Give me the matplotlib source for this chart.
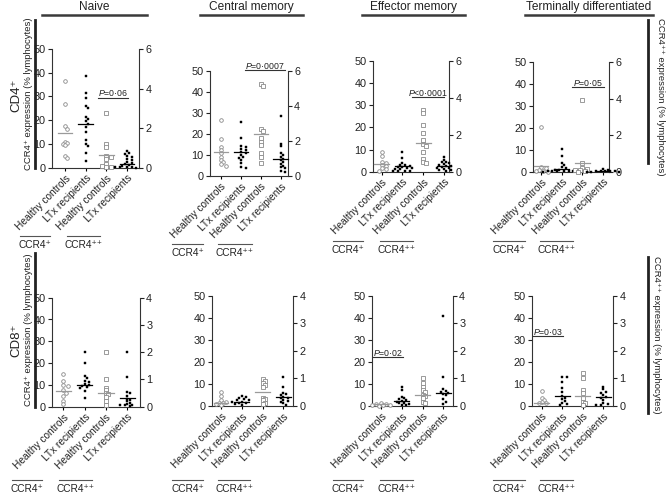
import matplotlib
matplotlib.use('Agg')
import matplotlib.pyplot as plt
from matplotlib.lines import Line2D

plt.rcParams['font.family'] = ['Liberation Sans', 'DejaVu Sans']
plt.rcParams['mathtext.fontset'] = 'custom'
plt.rcParams['mathtext.rm'] = 'Liberation Sans'
plt.rcParams['mathtext.it'] = 'Liberation Sans:italic'

# ---------------- data ----------------
categories = ['Healthy controls', 'LTx recipients', 'Healthy controls', 'LTx recipients']
subset_titles = ['Naive', 'Central memory', 'Effector memory', 'Terminally differentiated']
left_ticks = [0, 10, 20, 30, 40, 50]
right_ticks_cd4 = [0, 2, 4, 6]
right_ticks_cd8 = [0, 1, 2, 3, 4]

# CD4+ (CCR4+ on left axis, CCR4++ on right axis)
cd4_naive_hc_pos = [36.5, 27, 17.5, 16.5, 11, 10.5, 10, 9.5, 5, 4]
cd4_naive_ltx_pos = [38.5, 31.5, 29.5, 26, 25, 21.5, 20.5, 19.5, 18.5, 17, 15, 11.5, 10, 9, 6, 3]
cd4_naive_hc_hi = [2.75, 1.2, 1.05, 0.6, 0.55, 0.45, 0.2, 0.05, 0.05, 0.1]
cd4_naive_ltx_hi = [0.85, 0.75, 0.7, 0.6, 0.55, 0.45, 0.4, 0.3, 0.25, 0.2, 0.15, 0.1, 0.05, 0.02, 0.02, 0.0, 0.05]
cd4_naive_lines = [14.5, 18.5, 0.62, 0.18]

cd4_cm_hc_pos = [26.5, 17.5, 14, 12.5, 11, 9, 7.5, 6.5, 5.5, 5]
cd4_cm_ltx_pos = [25.5, 18, 14.5, 14, 13, 12.5, 11.5, 11, 10, 9, 8.5, 7.5, 6, 4.5, 4]
cd4_cm_hc_hi = [5.25, 5.15, 2.7, 2.6, 2.2, 1.95, 1.8, 1.3, 1.1, 0.75]
cd4_cm_ltx_hi = [3.45, 1.85, 1.7, 1.3, 1.2, 1.1, 1.0, 0.9, 0.8, 0.7, 0.6, 0.5, 0.45, 0.3, 0.25]
cd4_cm_lines = [11.3, 11.5, 2.4, 0.95]

cd4_em_hc_pos = [9, 7, 4.5, 4, 3, 2.5, 1.5, 1, 0.5]
cd4_em_ltx_pos = [9, 6, 4, 3, 3, 2.5, 2, 2, 1.5, 1.5, 1, 1, 0.5, 0.5, 0.3, 0.2]
cd4_em_hc_hi = [3.35, 3.2, 2.55, 2.1, 1.7, 1.5, 1.4, 1.05, 0.7, 0.55, 0.45]
cd4_em_ltx_hi = [0.8, 0.65, 0.55, 0.5, 0.45, 0.4, 0.35, 0.3, 0.3, 0.25, 0.2, 0.2, 0.15, 0.1, 0.1, 0.05]
cd4_em_lines = [3.3, 2.6, 1.55, 0.33]

cd4_td_hc_pos = [20.5, 2, 1.5, 1, 0.5, 0.3, 0]
cd4_td_ltx_pos = [10.5, 7, 4, 3, 2, 1.5, 1, 1, 0.5, 0.5, 0.3, 0.3, 0.2, 0.1, 0.1, 0]
cd4_td_hc_hi = [3.9, 0.5, 0.2, 0.15, 0.1, 0.1, 0.05, 0]
cd4_td_ltx_hi = [0.15, 0.1, 0.05, 0.05, 0.03, 0.02, 0.02, 0, 0, 0]
cd4_td_lines = [2.7, 1.2, 0.45, 0.02]

# CD8+
cd8_naive_hc_pos = [15, 12, 10, 9.5, 7.5, 6.5, 5, 2.5, 1.2]
cd8_naive_ltx_pos = [25, 20, 14, 13, 12, 11.5, 10.5, 10, 9.5, 9, 8.5, 7, 4]
cd8_naive_hc_hi = [2.0, 1.0, 0.7, 0.6, 0.5, 0.45, 0.35, 0.2, 0.05]
cd8_naive_ltx_hi = [2.0, 1.1, 0.55, 0.5, 0.4, 0.3, 0.25, 0.2, 0.15, 0.1, 0.08, 0.05, 0.05, 0.02]
cd8_naive_lines = [7, 10, 0.52, 0.33]

cd8_cm_hc_pos = [6.5, 4.5, 2.5, 2, 1.5, 1.2, 0.8, 0.5]
cd8_cm_ltx_pos = [4.5, 4, 3.5, 3, 2.5, 2.5, 2, 2, 1.5, 1.2, 1, 0.5]
cd8_cm_hc_hi = [0.97, 0.9, 0.82, 0.76, 0.7, 0.3, 0.25, 0.2, 0.12, 0.07]
cd8_cm_ltx_hi = [1.06, 0.68, 0.48, 0.42, 0.4, 0.34, 0.3, 0.28, 0.22, 0.18, 0.15, 0.1, 0.05]
cd8_cm_lines = [1.2, 2.0, 0.52, 0.34]

cd8_em_hc_pos = [1.2, 1, 0.8, 0.5, 0.5, 0.3, 0.2]
cd8_em_ltx_pos = [8.8, 7.3, 4.2, 3.5, 3, 2.7, 2.3, 2, 1.5, 1.2, 1, 0.5, 0.3]
cd8_em_hc_hi = [1.0, 0.85, 0.7, 0.58, 0.5, 0.4, 0.35, 0.28, 0.16, 0.1]
cd8_em_ltx_hi = [3.25, 1.06, 0.6, 0.55, 0.52, 0.48, 0.45, 0.4, 0.24, 0.16, 0.08]
cd8_em_lines = [0.8, 2.3, 0.4, 0.48]

cd8_td_hc_pos = [6.8, 3.5, 2.7, 2, 1.5, 1.2]
cd8_td_ltx_pos = [13.3, 13.3, 11, 8, 6.3, 4.5, 3.8, 3, 2.3, 1.5, 1, 0.5]
cd8_td_hc_hi = [1.18, 1.0, 0.58, 0.46, 0.28, 0.16, 0.1, 0.04]
cd8_td_ltx_hi = [0.7, 0.6, 0.52, 0.48, 0.4, 0.34, 0.3, 0.22, 0.1, 0.06, 0.04, 0.04]
cd8_td_lines = [1.5, 4.5, 0.37, 0.34]

cd4_pvalues = ['0·06', '0·0007', '<0·0001', '0·05']
cd8_pvalues = [None, None, '0·02', '0·03']

# ---------------- layout ----------------
W, H = 666, 494
fig = plt.figure(figsize=(W / 100, H / 100), dpi=100)


def fx(x):
    return x / W


def fy(y):
    return 1 - y / H


def hline(x0, x1, y, lw=0.8, color='#444444'):
    fig.add_artist(Line2D([fx(x0), fx(x1)], [fy(y), fy(y)], lw=lw, color=color))


def vline(x, y0, y1, lw=2.0, color='#222222'):
    fig.add_artist(Line2D([fx(x), fx(x)], [fy(y0), fy(y1)], lw=lw, color=color))


GRAY = '#8a8a8a'
TEXT = '#222222'


def swarm_offsets(ax, yax, xc, vals, d=2.6):
    ppu = ax.transData.transform((1, 0))[0] - ax.transData.transform((0, 0))[0]
    placed = []
    offs = []
    cands = [0.0]
    for k in range(1, 12):
        cands += [k * d * 0.9, -k * d * 0.9]
    for v in vals:
        yp = yax.transData.transform((xc, v))[1]
        for c in cands:
            if all((c - px) ** 2 + (yp - py) ** 2 >= d * d for px, py in placed):
                break
        placed.append((c, yp))
        offs.append(c / ppu)
    return offs


def panel(L, R, T, B, xlim, rmax, rticks, groups, lines, pval, pbar):
    ax = fig.add_axes([fx(L), fy(B), (R - L) / W, (B - T) / H])
    ax.set_xlim(*xlim)
    ax.set_ylim(0, 50)
    ax2 = ax.twinx()
    ax2.set_ylim(0, rmax)
    for a in (ax, ax2):
        a.patch.set_visible(False)
        for s in a.spines.values():
            s.set_linewidth(0.8)
            s.set_color('#333333')
    ax.spines['top'].set_visible(False)
    ax.spines['right'].set_visible(False)
    ax2.spines['top'].set_visible(False)
    ax2.spines['left'].set_visible(False)
    ax2.spines['bottom'].set_visible(False)
    ax.set_yticks(left_ticks)
    ax2.set_yticks(rticks)
    ax.tick_params(axis='y', length=3, width=0.8, labelsize=7.8, pad=1.5, colors=TEXT)
    ax2.tick_params(axis='y', length=3, width=0.8, labelsize=7.8, pad=1.5, colors=TEXT)
    ax.set_xticks([1, 2, 3, 4])
    ax.set_xticklabels(categories, rotation=45, ha='right', va='top',
                       rotation_mode='anchor', fontsize=7.3, color=TEXT)
    ax.tick_params(axis='x', length=2, width=0.8, pad=2)

    styles = [
        dict(marker='o', ms=2.6, mfc='white', mec=GRAY, mew=0.6),
        dict(marker='s', ms=2.1, mfc='black', mec='black', mew=0.3),
        dict(marker='s', ms=2.4, mfc='white', mec=GRAY, mew=0.6),
        dict(marker='s', ms=2.1, mfc='black', mec='black', mew=0.3),
    ]
    for i, vals in enumerate(groups):
        xc = i + 1
        yax = ax if i < 2 else ax2
        offs = swarm_offsets(ax, yax, xc, vals)
        xs = [xc + o for o in offs]
        yax.plot(xs, vals, ls='none', clip_on=False, zorder=3, **styles[i])
        col = '#9a9a9a' if i % 2 == 0 else 'black'
        yax.plot([xc - 0.36, xc + 0.36], [lines[i], lines[i]], color=col, lw=0.9,
                 zorder=4, clip_on=False)
    if pval is not None:
        x0, x1, yb = pbar
        hline(x0, x1, yb, lw=0.8, color='#333333')
        fig.text(fx((x0 + x1) / 2), fy(yb + 0.5), '$\\it{P}$' + ('' if pval.startswith('<') else '=') + pval,
                 ha='center', va='bottom', fontsize=6.3, color=TEXT)
    return ax


top_layout = [
    (52, 139, 49, 167.7, (0.37, 4.58)),
    (210, 288, 71, 176, (0.45, 4.37)),
    (373, 449, 61, 171.7, (0.58, 4.24)),
    (533, 609, 62, 171.7, (0.61, 4.29)),
]
bottom_layout = [
    (52, 140, 297.7, 406.7, (0.47, 4.60)),
    (211.7, 293, 295.7, 406, (0.55, 4.47)),
    (371.7, 453, 295.7, 406, (0.55, 4.47)),
    (531.7, 613, 295.7, 406, (0.51, 4.47)),
]
top_pbars = [(98, 128, 98), (245, 285, 70), (412, 444, 97), (572, 604, 87)]
bottom_pbars = [None, None, (373, 403, 357), (533, 563, 336)]

cd4_groups = [
    [cd4_naive_hc_pos, cd4_naive_ltx_pos, cd4_naive_hc_hi, cd4_naive_ltx_hi],
    [cd4_cm_hc_pos, cd4_cm_ltx_pos, cd4_cm_hc_hi, cd4_cm_ltx_hi],
    [cd4_em_hc_pos, cd4_em_ltx_pos, cd4_em_hc_hi, cd4_em_ltx_hi],
    [cd4_td_hc_pos, cd4_td_ltx_pos, cd4_td_hc_hi, cd4_td_ltx_hi],
]
cd4_lines = [cd4_naive_lines, cd4_cm_lines, cd4_em_lines, cd4_td_lines]
cd8_groups = [
    [cd8_naive_hc_pos, cd8_naive_ltx_pos, cd8_naive_hc_hi, cd8_naive_ltx_hi],
    [cd8_cm_hc_pos, cd8_cm_ltx_pos, cd8_cm_hc_hi, cd8_cm_ltx_hi],
    [cd8_em_hc_pos, cd8_em_ltx_pos, cd8_em_hc_hi, cd8_em_ltx_hi],
    [cd8_td_hc_pos, cd8_td_ltx_pos, cd8_td_hc_hi, cd8_td_ltx_hi],
]
cd8_lines = [cd8_naive_lines, cd8_cm_lines, cd8_em_lines, cd8_td_lines]

for j in range(4):
    L, R, T, B, xl = top_layout[j]
    panel(L, R, T, B, xl, 6, right_ticks_cd4, cd4_groups[j], cd4_lines[j],
          cd4_pvalues[j], top_pbars[j])
    L, R, T, B, xl = bottom_layout[j]
    panel(L, R, T, B, xl, 4, right_ticks_cd8, cd8_groups[j], cd8_lines[j],
          cd8_pvalues[j], bottom_pbars[j])

# titles
title_spans = [(42, 147), (200, 303), (362, 465), (525, 653)]
for t, (x0, x1) in zip(subset_titles, title_spans):
    fig.text(fx((x0 + x1) / 2), fy(7), t, ha='center', va='center', fontsize=8.6, color=TEXT)
    hline(x0, x1, 15.5, lw=1.8, color='#3a3a3a')

# CCR4+ / CCR4++ brackets
top_brackets = [(236, 245, (20, 50), (67, 100)),
                (244, 253, (172, 203), (218, 252)),
                (241, 250, (333, 363), (380, 413)),
                (241, 250, (493, 525), (540, 573))]
bottom_brackets = [(480, 488.5, (12, 42), (59, 92)),
                   (480, 488.5, (172, 203), (218, 250)),
                   (480, 488.5, (333, 363), (380, 413)),
                   (480, 488.5, (493, 525), (540, 573))]
for yl, yt, s1, s2 in top_brackets + bottom_brackets:
    hline(s1[0], s1[1], yl, lw=0.8, color='#555555')
    hline(s2[0], s2[1], yl, lw=0.8, color='#555555')
    fig.text(fx((s1[0] + s1[1]) / 2), fy(yt), 'CCR4⁺', ha='center', va='center',
             fontsize=7.3, color=TEXT)
    fig.text(fx((s2[0] + s2[1]) / 2), fy(yt), 'CCR4⁺⁺', ha='center', va='center',
             fontsize=7.3, color=TEXT)

# side labels
vline(35, 20, 168)
vline(35, 253, 407)
fig.text(fx(16), fy(95), 'CD4⁺', rotation=90, ha='center', va='center', fontsize=9.5, color=TEXT)
fig.text(fx(16), fy(340), 'CD8⁺', rotation=90, ha='center', va='center', fontsize=9.5, color=TEXT)
fig.text(fx(29), fy(94), 'CCR4⁺ expression (% lymphocytes)', rotation=90,
         ha='center', va='center', fontsize=6.8, color=TEXT)
fig.text(fx(29), fy(330), 'CCR4⁺ expression (% lymphocytes)', rotation=90,
         ha='center', va='center', fontsize=6.8, color=TEXT)

vline(648, 20, 163)
vline(648, 257, 413)
fig.text(fx(660), fy(97), 'CCR4⁺⁺ expression (% lymphocytes)', rotation=-90,
         ha='center', va='center', fontsize=6.8, color=TEXT)
fig.text(fx(656), fy(335), 'CCR4⁺⁺ expression (% lymphocytes)', rotation=-90,
         ha='center', va='center', fontsize=6.8, color=TEXT)

fig.savefig('out.png', dpi=100)
